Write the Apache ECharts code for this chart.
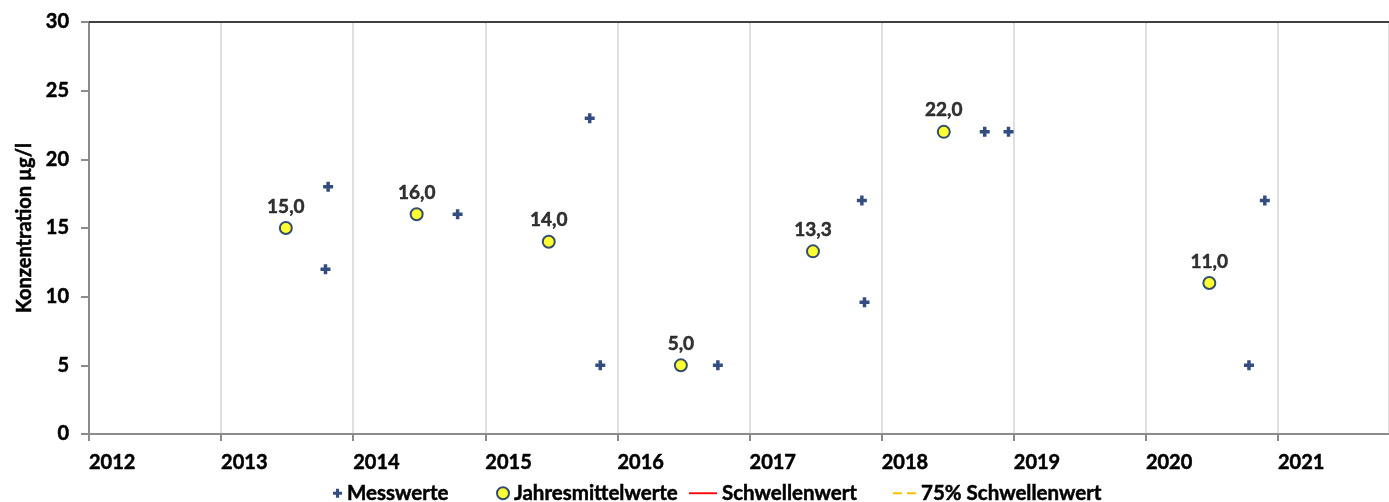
<!DOCTYPE html>
<html>
<head>
<meta charset="utf-8">
<script src="https://cdn.jsdelivr.net/npm/echarts@6/dist/echarts.min.js"></script>
<style>
  html, body { margin: 0; padding: 0; background: #fff; }
  #chart { width: 1389px; height: 502px; }
</style>
</head>
<body>
<div id="chart"></div>
<script>
// Einzelne Messwerte: [Jahr als Dezimalzahl, Konzentration]
const messYears = [2013.81, 2013.79, 2014.79, 2015.79, 2015.87, 2016.76, 2017.85, 2017.87, 2018.78, 2018.96, 2020.78, 2020.90]
const messValues = [18, 12, 16, 23, 5, 5, 17, 9.6, 22, 22, 5, 17]

// Jahresmittelwerte
const meanYears = [2013.49, 2014.48, 2015.48, 2016.48, 2017.48, 2018.47, 2020.48]
const meanValues = [15, 16, 14, 5, 13.3, 22, 11]

const yTicks = [0, 5, 10, 15, 20, 25, 30]
const xMin = 2012
const xMax = 2021.84

const navy = '#002060'
const font = 'Lato, "Open Sans", sans-serif'
// etwas kräftiger als normales Bold, wie im Original (Calibri Bold)
const heavy = { fontFamily: font, fontWeight: 'bold', color: '#000', textBorderColor: '#000', textBorderWidth: 0.5 }
const plus = 'path://M2.6,0H5.4V2.6H8V5.4H5.4V8H2.6V5.4H0V2.6H2.6Z'
const solidIcon = 'path://M0,0H30V2H0Z'
const dashIcon = 'path://M0,0H9V2H0Z M14,0H23V2H14Z'

// eine Legende je Eintrag, damit die Abstände wie im Original sitzen
const legendItem = (name, icon, left, w, h) => ({
  bottom: -7,
  left: left,
  itemWidth: w,
  itemHeight: h,
  textStyle: { ...heavy, fontSize: 20.5 },
  data: [{ name: name, icon: icon }]
})

const chart = echarts.init(document.getElementById('chart'))

const option = {
  animation: false,
  textStyle: { fontFamily: font },
  grid: { left: 89, right: 0, top: 22, bottom: 68 },
  legend: [
    legendItem('Messwerte', plus, 328, 9, 9),
    legendItem('Jahresmittelwerte', 'circle', 491, 12, 12),
    legendItem('Schwellenwert', solidIcon, 684, 28, 2.5),
    legendItem('75% Schwellenwert', dashIcon, 888, 23, 2.5)
  ],
  xAxis: [
    {
      type: 'value',
      min: xMin,
      max: xMax,
      interval: 1,
      axisLine: { show: true, lineStyle: { color: '#8c8c8c', width: 2 } },
      axisTick: { show: true, length: 7, lineStyle: { color: '#8c8c8c', width: 2 } },
      axisLabel: {
        ...heavy, fontSize: 20,
        align: 'left', margin: 19, showMaxLabel: false,
        formatter: v => Number.isInteger(v) ? String(v) : ''
      },
      splitLine: { show: true, lineStyle: { color: '#d4d4d4', width: 1.5 } }
    },
    {
      type: 'value',
      position: 'top',
      min: xMin,
      max: xMax,
      axisLine: { show: true, lineStyle: { color: '#404040', width: 2 } },
      axisTick: { show: false },
      axisLabel: { show: false },
      splitLine: { show: false }
    }
  ],
  yAxis: {
    type: 'value',
    min: yTicks[0],
    max: yTicks[yTicks.length - 1],
    interval: 5,
    name: 'Konzentration µg/l',
    nameLocation: 'middle',
    nameGap: 54,
    nameTextStyle: { ...heavy, fontSize: 20 },
    axisLine: { show: true, lineStyle: { color: '#8c8c8c', width: 2 } },
    axisTick: { show: true, length: 8, lineStyle: { color: '#8c8c8c', width: 2 } },
    axisLabel: { ...heavy, fontSize: 20, margin: 20 },
    splitLine: { show: false }
  },
  series: [
    {
      name: 'Messwerte',
      type: 'scatter',
      symbol: plus,
      symbolSize: 10,
      itemStyle: { color: navy },
      data: messYears.map((x, i) => [x, messValues[i]])
    },
    {
      name: 'Jahresmittelwerte',
      type: 'scatter',
      symbol: 'circle',
      symbolSize: 12,
      itemStyle: { color: '#ffff00', borderColor: navy, borderWidth: 2 },
      label: {
        show: true,
        position: 'top',
        distance: 5,
        ...heavy,
        fontSize: 19,
        formatter: p => p.value[1].toFixed(1).replace('.', ',')
      },
      data: meanYears.map((x, i) => [x, meanValues[i]])
    },
    {
      name: 'Schwellenwert',
      type: 'line',
      symbol: 'none',
      lineStyle: { color: '#ff0000', width: 2 },
      itemStyle: { color: '#ff0000' },
      data: []
    },
    {
      name: '75% Schwellenwert',
      type: 'line',
      symbol: 'none',
      lineStyle: { color: '#ffc000', width: 2, type: [6, 5] },
      itemStyle: { color: '#ffc000' },
      data: []
    }
  ]
}

chart.setOption(option)
</script>
</body>
</html>
